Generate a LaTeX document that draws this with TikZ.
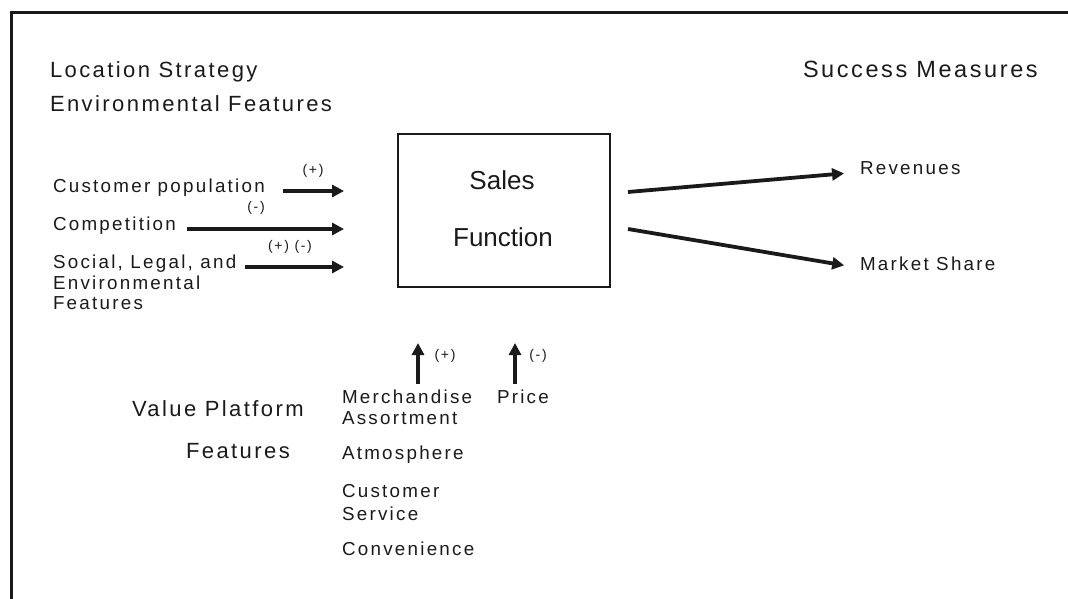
\documentclass[tikz,border=0pt]{standalone}
\usepackage{fontspec}
\setmainfont{Liberation Sans}
\newfontfamily\titlef[LetterSpace=11]{Liberation Sans}
\newfontfamily\bodyf[LetterSpace=12]{Liberation Sans}
\usetikzlibrary{arrows.meta}
\definecolor{ink}{HTML}{1A1A1A}
\begin{document}
\begin{tikzpicture}[x=1pt,y=-1pt,
  every node/.style={inner sep=0pt,outer sep=0pt,text=ink},
  ttl/.style={anchor=base west,font=\titlef\fontsize{22}{26}\selectfont},
  txt/.style={anchor=base west,font=\bodyf\fontsize{18.8}{21}\selectfont},
  sgn/.style={anchor=center,font=\bodyf\fontsize{14}{16}\selectfont},
  arr/.style={draw=ink,line width=3.8pt,-{Triangle[length=12pt,width=12pt]}},
  frame/.style={draw=ink,line width=3pt},
  boxst/.style={draw=ink,line width=2pt}]
\useasboundingbox (0,0) rectangle (1068,599);
% frame
\draw[frame] (11,599) -- (11,13) -- (1068,13);
% titles
\node[ttl] (ls) at (50,78) {Location Strategy};
\node[ttl] (ef) at (50,112) {Environmental Features};
\node[ttl,font=\titlef\fontsize{23.5}{26}\selectfont] (sm) at (803,78) {Success Measures};
% left inputs
\node[txt] (cp) at (53,192) {Customer population};
\node[txt] (co) at (53,230) {Competition};
\node[txt] (sl1) at (53,268) {Social, Legal, and};
\node[txt] (sl2) at (53,289) {Environmental};
\node[txt] (sl3) at (53,309) {Features};
\coordinate (a1s) at (283,191);
\coordinate (a1e) at (344,191);
\coordinate (a2s) at (187,229);
\coordinate (a2e) at (344,229);
\coordinate (a3s) at (245,267);
\coordinate (a3e) at (344,267);
\draw[arr] (a1s) -- (a1e);
\draw[arr] (a2s) -- (a2e);
\draw[arr] (a3s) -- (a3e);
\node[sgn] (s1) at (313,171) {(+)};
\node[sgn] (s2) at (256,208) {(-)};
\node[sgn] (s3) at (290,247) {(+) (-)};
% box
\node[boxst,minimum width=212pt,minimum height=153pt,anchor=north west] (sf) at (398,134) {};
\node[anchor=base,font=\fontsize{26}{30}\selectfont] (sales) at (502,189) {Sales};
\node[anchor=base,font=\fontsize{26}{30}\selectfont] (func) at (503,246) {Function};
% outputs
\node[txt] (rev) at (860,174) {Revenues};
\node[txt] (ms) at (860,270) {Market Share};
\coordinate (o1s) at (628,192);
\coordinate (o2s) at (628,229);
\draw[arr,shorten >=16pt] (o1s) -- (rev.west |- 0,172);
\draw[arr,shorten >=16pt] (o2s) -- (ms.west |- 0,268);
% value platform
\node[ttl] (vp1) at (132,416) {Value Platform};
\node[ttl] (vp2) at (186,458) {Features};
\node[txt] (me) at (342,403) {Merchandise};
\node[txt] (as) at (342,424) {Assortment};
\node[txt] (at) at (342,459) {Atmosphere};
\node[txt] (cs1) at (342,497) {Customer};
\node[txt] (cs2) at (342,520) {Service};
\node[txt] (cv) at (342,555) {Convenience};
\node[txt] (pr) at (497,403) {Price};
\coordinate (v1s) at (418,384);
\coordinate (v1e) at (418,343);
\coordinate (v2s) at (515,384);
\coordinate (v2e) at (515,343);
\draw[arr] (v1s) -- (v1e);
\draw[arr] (v2s) -- (v2e);
\node[sgn] (s4) at (445,356) {(+)};
\node[sgn] (s5) at (538,356) {(-)};
\end{tikzpicture}
\end{document}
